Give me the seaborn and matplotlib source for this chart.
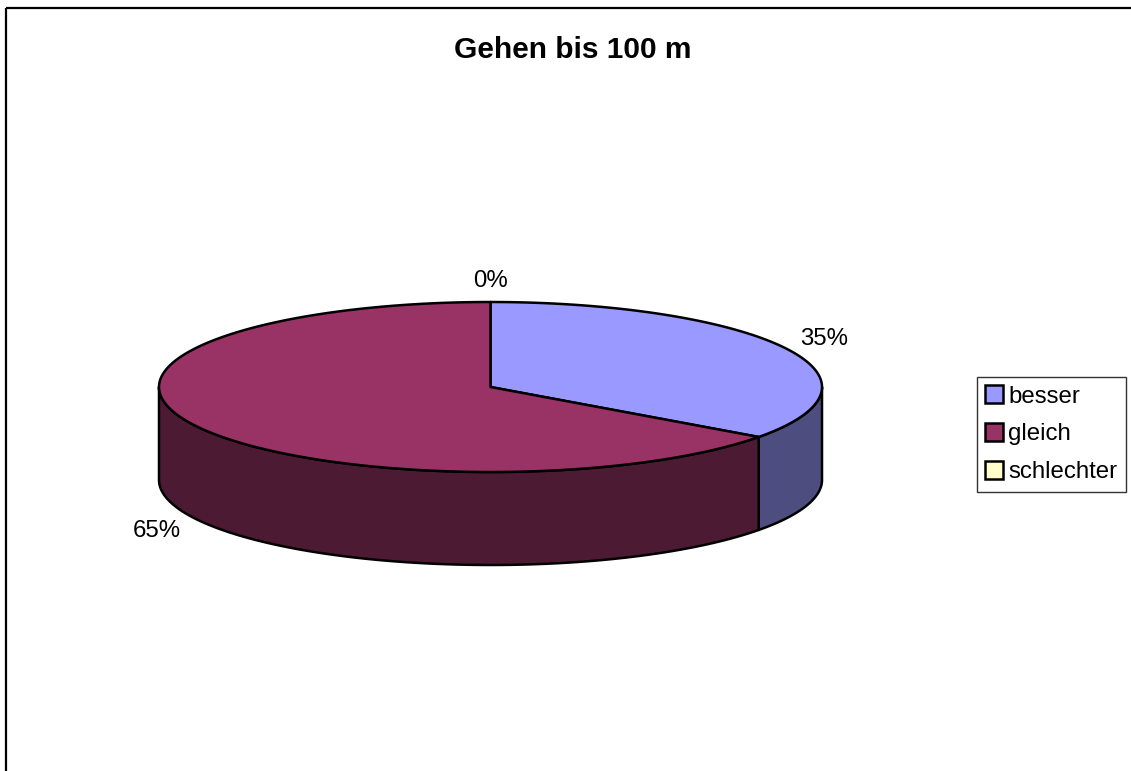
import numpy as np
import matplotlib
matplotlib.use("Agg")
import matplotlib.pyplot as plt
from matplotlib.patches import Polygon, Patch, Rectangle
import seaborn as sns

# Data
categories = ["besser", "gleich", "schlechter"]
shares = [35, 65, 0]
labels = ["35%", "65%", "0%"]
top_colors = ["#9999FF", "#993366", "#FFFFCC"]
side_colors = ["#4D4D80", "#4D1A33", "#808066"]
title = "Gehen bis 100 m"

sns.set_theme(style="white")
plt.rcParams["font.family"] = ["Liberation Sans", "DejaVu Sans"]
plt.rcParams["text.color"] = "black"

W, H = 1131, 771
fig = plt.figure(figsize=(W / 100, H / 100), dpi=100)
ax = fig.add_axes([0, 0, 1, 1])
ax.set_xlim(0, W)
ax.set_ylim(H, 0)
ax.axis("off")

# Outer chart frame
ax.add_patch(Rectangle((5.5, 7.5), W + 20, H + 20, fill=False, ec="black", lw=1.6, zorder=0))

# Pie geometry (screen coords, y downwards)
cx, cy, rx, ry, depth = 490.5, 387.0, 331.5, 85.0, 93.0


def ell(t):
    return cx + rx * np.cos(t), cy + ry * np.sin(t)


fractions = np.array(shares, dtype=float) / sum(shares)
starts = -np.pi / 2 + 2 * np.pi * np.concatenate([[0], np.cumsum(fractions)[:-1]])
ends = starts + 2 * np.pi * fractions

# Side walls: only the front half (0..pi) is visible
for s, e, col in zip(starts, ends, side_colors):
    for k in (-1, 0, 1):
        a = max(s + 2 * np.pi * k, 0.0)
        b = min(e + 2 * np.pi * k, np.pi)
        if b <= a:
            continue
        t = np.linspace(a, b, 200)
        xs, ys = ell(t)
        pts = np.column_stack([np.concatenate([xs, xs[::-1]]),
                               np.concatenate([ys, ys[::-1] + depth])])
        ax.add_patch(Polygon(pts, closed=True, fc=col, ec="black", lw=1.8,
                             joinstyle="round", zorder=2))

# Top faces
for s, e, col in zip(starts, ends, top_colors):
    if e - s <= 0:
        continue
    t = np.linspace(s, e, 400)
    xs, ys = ell(t)
    pts = np.column_stack([np.concatenate([[cx], xs]), np.concatenate([[cy], ys])])
    ax.add_patch(Polygon(pts, closed=True, fc=col, ec="black", lw=1.8,
                         joinstyle="round", zorder=3))

# Percentage labels outside the slices
for s, e, lab in zip(starts, ends, labels):
    m = (s + e) / 2
    lx = cx + 1.13 * rx * np.cos(m)
    ly = cy + 1.25 * ry * np.sin(m)
    if np.sin(m) > 0.05:
        ly += depth + 3
    ax.text(lx, ly, lab, ha="center", va="center", fontsize=17.3, color="black", zorder=5)

ax.text(573, 50, title, ha="center", va="center", fontsize=21.5, fontweight="bold", color="black")

handles = [Patch(fc=c, ec="black", lw=1.8) for c in top_colors]
leg = ax.legend(handles, categories, loc="upper left",
                bbox_to_anchor=(977 / W, 1 - 377 / H), bbox_transform=fig.transFigure,
                fontsize=17.3, frameon=True, fancybox=False, edgecolor="black",
                handlelength=0.75, handleheight=0.75, handletextpad=0.2,
                borderpad=0.35, labelspacing=0.65, borderaxespad=0)
leg.get_frame().set_linewidth(1.0)
for txt in leg.get_texts():
    txt.set_color("black")

fig.savefig("out.png", dpi=100, facecolor="white")
